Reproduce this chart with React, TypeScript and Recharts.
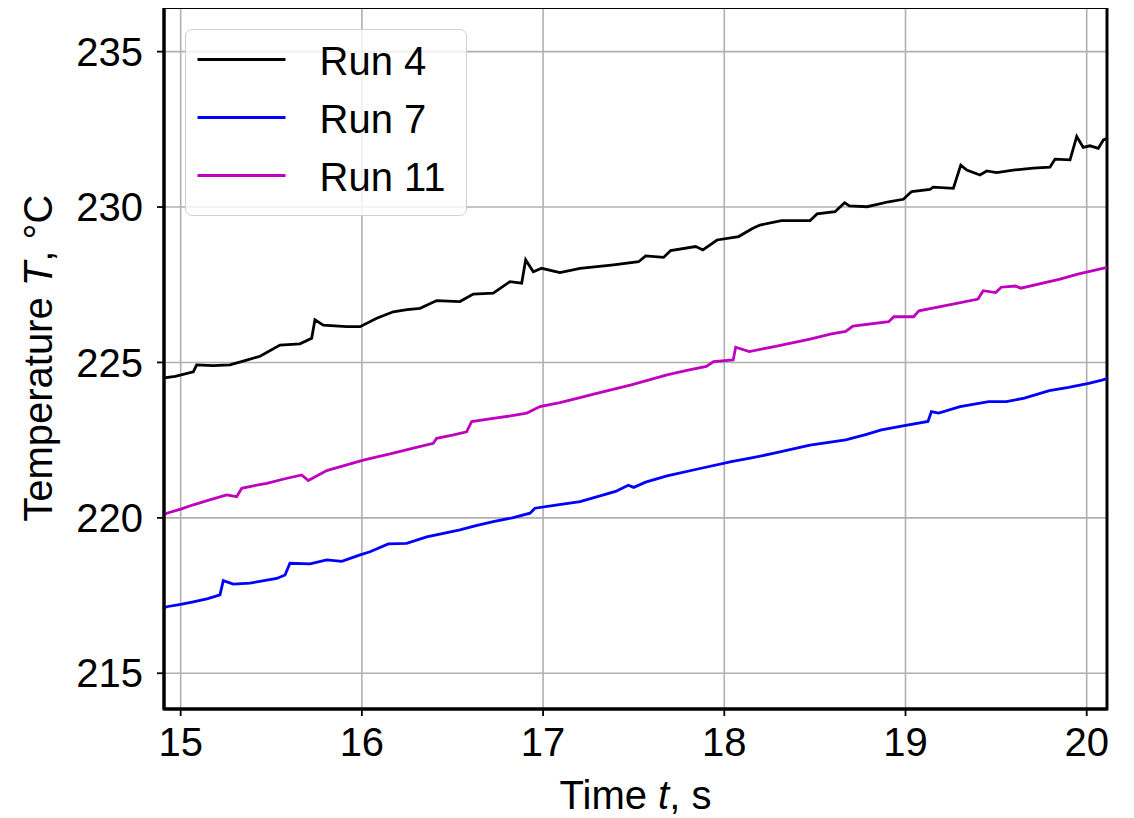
import { LineChart, Line, XAxis, YAxis, CartesianGrid, Legend, ReferenceArea } from 'recharts';

const FONT = '"Liberation Sans", Arial, Helvetica, sans-serif';

const xTicks = [15, 16, 17, 18, 19, 20];
const yTicks = [215, 220, 225, 230, 235];
const xDomain: [number, number] = [14.908, 20.112];
const yDomain: [number, number] = [213.85, 236.42];

// [time s, temperature °C]
const run4: [number, number][] = [
  [14.908, 224.5], [14.97, 224.55], [15.07, 224.7], [15.088, 224.92], [15.18, 224.9], [15.272, 224.92],
  [15.35, 225.05], [15.438, 225.2], [15.548, 225.56], [15.658, 225.6], [15.723, 225.78], [15.741, 226.37],
  [15.787, 226.2], [15.916, 226.15], [15.99, 226.15], [16.082, 226.42], [16.173, 226.63], [16.25, 226.7],
  [16.321, 226.74], [16.413, 226.99], [16.541, 226.96], [16.615, 227.2], [16.725, 227.23], [16.817, 227.6],
  [16.882, 227.55], [16.904, 228.3], [16.946, 227.92], [16.992, 228.03], [17.093, 227.89], [17.204, 228.03],
  [17.389, 228.14], [17.527, 228.24], [17.566, 228.43], [17.665, 228.38], [17.704, 228.6], [17.842, 228.73],
  [17.882, 228.62], [17.96, 228.94], [18.079, 229.05], [18.158, 229.32], [18.197, 229.42], [18.315, 229.56],
  [18.473, 229.56], [18.512, 229.78], [18.611, 229.85], [18.664, 230.14], [18.69, 230.04], [18.788, 230.01],
  [18.907, 230.17], [18.988, 230.25], [19.034, 230.5], [19.135, 230.57], [19.153, 230.64], [19.264, 230.6],
  [19.305, 231.35], [19.338, 231.19], [19.411, 231.03], [19.448, 231.16], [19.503, 231.11], [19.595, 231.19],
  [19.705, 231.25], [19.797, 231.28], [19.825, 231.54], [19.908, 231.52], [19.945, 232.27], [19.981, 231.92],
  [20.018, 231.97], [20.064, 231.89], [20.092, 232.16], [20.112, 232.2],
];

const run7: [number, number][] = [
  [14.908, 217.1], [14.923, 217.14], [15.0, 217.22], [15.07, 217.3], [15.15, 217.4], [15.217, 217.52],
  [15.235, 217.98], [15.29, 217.87], [15.382, 217.9], [15.46, 217.98], [15.53, 218.05], [15.576, 218.16],
  [15.603, 218.54], [15.714, 218.52], [15.806, 218.65], [15.889, 218.6], [15.99, 218.81], [16.045, 218.91],
  [16.146, 219.16], [16.247, 219.18], [16.358, 219.39], [16.45, 219.5], [16.541, 219.61], [16.63, 219.75],
  [16.725, 219.88], [16.83, 220.0], [16.928, 220.15], [16.955, 220.31], [17.08, 220.42], [17.204, 220.52],
  [17.3, 220.68], [17.4, 220.85], [17.47, 221.05], [17.5, 220.98], [17.566, 221.15], [17.684, 221.35],
  [17.86, 221.58], [18.039, 221.81], [18.15, 221.93], [18.276, 222.08], [18.473, 222.34], [18.67, 222.51],
  [18.78, 222.68], [18.867, 222.83], [18.986, 222.96], [19.124, 223.1], [19.143, 223.42], [19.183, 223.37],
  [19.301, 223.58], [19.459, 223.74], [19.557, 223.74], [19.656, 223.85], [19.794, 224.09], [19.9, 224.2],
  [20.011, 224.33], [20.089, 224.44], [20.112, 224.48],
];

const run11: [number, number][] = [
  [14.908, 220.1], [14.923, 220.15], [15.0, 220.28], [15.07, 220.42], [15.16, 220.58], [15.254, 220.74],
  [15.309, 220.68], [15.337, 220.95], [15.4, 221.03], [15.475, 221.11], [15.57, 221.25], [15.668, 221.38],
  [15.704, 221.2], [15.806, 221.52], [15.897, 221.67], [16.008, 221.86], [16.09, 221.97], [16.173, 222.08],
  [16.284, 222.24], [16.394, 222.4], [16.413, 222.56], [16.5, 222.66], [16.578, 222.77], [16.606, 223.1],
  [16.725, 223.2], [16.82, 223.28], [16.91, 223.37], [16.983, 223.58], [17.093, 223.71], [17.204, 223.87],
  [17.29, 224.0], [17.487, 224.28], [17.684, 224.6], [17.8, 224.75], [17.901, 224.87], [17.941, 225.03],
  [18.049, 225.08], [18.063, 225.49], [18.138, 225.35], [18.276, 225.51], [18.473, 225.75], [18.591, 225.92],
  [18.67, 226.0], [18.71, 226.17], [18.907, 226.31], [18.936, 226.47], [19.045, 226.47], [19.074, 226.66],
  [19.262, 226.88], [19.4, 227.04], [19.429, 227.31], [19.498, 227.25], [19.528, 227.42], [19.607, 227.46],
  [19.636, 227.39], [19.853, 227.68], [19.951, 227.84], [20.089, 228.03], [20.112, 228.06],
];

const series = [
  { name: 'Run 4', color: '#000000', points: run4 },
  { name: 'Run 7', color: '#0000ff', points: run7 },
  { name: 'Run 11', color: '#bf00bf', points: run11 },
];

const toRows = (pts: [number, number][]) => pts.map(([t, T]) => ({ t, T }));

const tickStyle = { fontSize: 40, fill: '#000', fontFamily: FONT };

function LegendBox(props: any) {
  const payload = [...(props.payload || [])].sort(
    (a: any, b: any) => series.findIndex((s) => s.name === a.value) - series.findIndex((s) => s.name === b.value),
  );
  return (
    <div
      style={{
        width: 282,
        height: 187,
        boxSizing: 'border-box',
        border: '1.5px solid #d0d0d0',
        borderRadius: 7,
        background: 'rgba(255,255,255,0.8)',
      }}
    >
      <svg width={279} height={184} style={{ display: 'block' }}>
        {payload.map((p: any, i: number) => (
          <g key={p.value}>
            <line x1={11.5} x2={99.5} y1={29.5 + i * 58} y2={29.5 + i * 58} stroke={p.color} strokeWidth={2.8} />
            <text x={133.5} y={29.5 + i * 58 + 15} fontSize={40} fontFamily={FONT} fill="#000">
              {p.value}
            </text>
          </g>
        ))}
      </svg>
    </div>
  );
}

function XLabel(props: any) {
  const vb = props.viewBox || {};
  const cx = vb.x + vb.width / 2;
  return (
    <text x={cx} y={805} textAnchor="middle" fontSize={40} fontFamily={FONT} fill="#000">
      Time <tspan fontStyle="italic">t</tspan>, s
    </text>
  );
}

function YLabel(props: any) {
  const vb = props.viewBox || {};
  const cy = vb.y + vb.height / 2;
  const x = 44;
  return (
    <text x={x} y={cy} transform={`rotate(-90 ${x} ${cy})`} textAnchor="middle" fontSize={40} fontFamily={FONT} fill="#000">
      Temperature <tspan fontStyle="italic">T</tspan>, °C
    </text>
  );
}

export default function App() {
  return (
    <div style={{ marginTop: -4, width: 1126, height: 814, background: '#fff' }}>
      <LineChart width={1126} height={814} margin={{ top: 3.5, right: 27, left: 0, bottom: 0 }}>
        <CartesianGrid stroke="#b0b0b0" strokeWidth={1.6} />
        <XAxis
          dataKey="t"
          type="number"
          domain={xDomain}
          ticks={xTicks}
          allowDataOverflow
          height={109}
          axisLine={{ stroke: '#000', strokeWidth: 3 }}
          tickLine={{ stroke: '#000', strokeWidth: 1.8 }}
          tickSize={7}
          tickMargin={12}
          tick={tickStyle}
          label={{ content: <XLabel /> }}
        />
        <YAxis
          type="number"
          domain={yDomain}
          ticks={yTicks}
          allowDataOverflow
          width={156}
          axisLine={{ stroke: '#000', strokeWidth: 3 }}
          tickLine={{ stroke: '#000', strokeWidth: 1.8 }}
          tickSize={7}
          tickMargin={14}
          tick={tickStyle}
          label={{ content: <YLabel /> }}
        />
        <ReferenceArea
          x1={xDomain[0]}
          x2={xDomain[1]}
          y1={yDomain[0]}
          y2={yDomain[1]}
          fill="none"
          fillOpacity={0}
          stroke="#000"
          strokeWidth={3}
        />
        {series.map((s) => (
          <Line
            key={s.name}
            data={toRows(s.points)}
            dataKey="T"
            name={s.name}
            type="linear"
            stroke={s.color}
            strokeWidth={2.8}
            dot={false}
            activeDot={false}
            isAnimationActive={false}
          />
        ))}
        <Legend
          layout="vertical"
          align="center"
          verticalAlign="middle"
          content={<LegendBox />}
          wrapperStyle={{ left: 177, top: 25.3, width: 282, height: 187 }}
        />
      </LineChart>
    </div>
  );
}
